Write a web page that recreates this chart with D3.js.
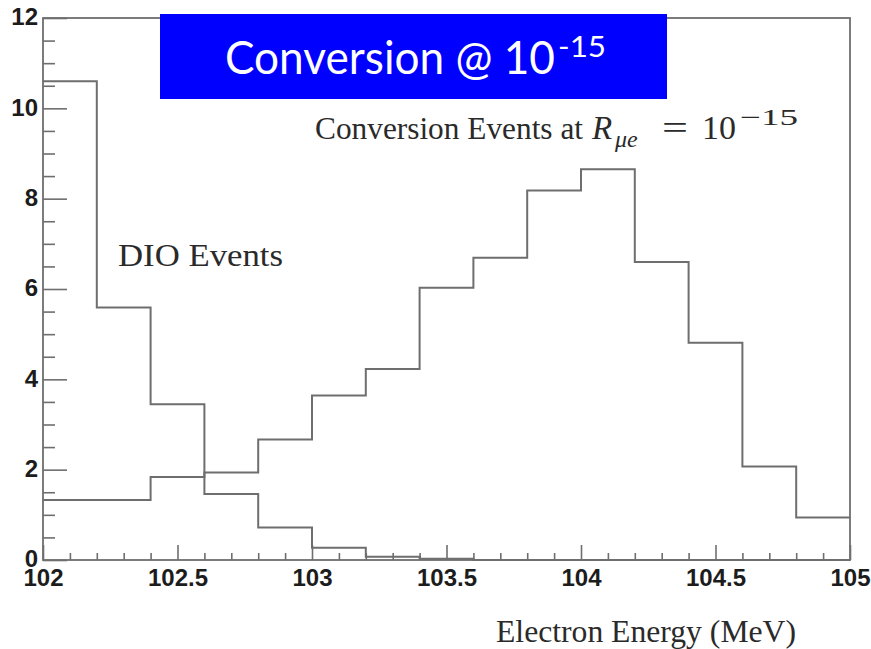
<!DOCTYPE html>
<html>
<head>
<meta charset="utf-8">
<script src="https://cdn.jsdelivr.net/npm/d3@7/dist/d3.min.js"></script>
<style>
  html, body { margin: 0; padding: 0; background: #fff; }
  svg { display: block; }
</style>
</head>
<body>
<svg id="chart" width="871" height="649"></svg>
<script>
// Bin lower edges of the electron energy histogram (MeV), width 0.2 MeV
const binLowEdges = [102.0, 102.2, 102.4, 102.6, 102.8, 103.0, 103.2, 103.4,
                     103.6, 103.8, 104.0, 104.2, 104.4, 104.6, 104.8];
const binUpperEnd = 105.0;

// Decay-in-orbit background events per bin
const dioCounts = [10.6, 5.59, 3.45, 1.46, 0.72, 0.27, 0.07, 0.03,
                   0, 0, 0, 0, 0, 0, 0];

// Conversion signal events per bin at R_mue = 1e-15
const conversionCounts = [1.33, 1.33, 1.84, 1.94, 2.67, 3.64, 4.23, 6.03,
                          6.69, 8.18, 8.65, 6.60, 4.81, 2.07, 0.94];

// Axis tick labels
const xTickValues = [102, 102.5, 103, 103.5, 104, 104.5, 105];
const xTickLabels = ["102", "102.5", "103", "103.5", "104", "104.5", "105"];
const yTickValues = [0, 2, 4, 6, 8, 10, 12];
const yTickLabels = ["0", "2", "4", "6", "8", "10", "12"];

const svg = d3.select("#chart");
const lineColor = "#6e6e6e";
const labelFont = "'Liberation Sans', Arial, sans-serif";

const x = d3.scaleLinear().domain([102, 105]).range([43, 850]);
const y = d3.scaleLinear().domain([0, 12]).range([560, 18]);

// Minor ticks: every 0.1 MeV on x, every 0.5 on y
const xMinor = d3.range(102, 105.0001, 0.1).map(v => +v.toFixed(1))
  .filter(v => !xTickValues.includes(v));
const yMinor = d3.range(0, 12.0001, 0.5).filter(v => !yTickValues.includes(v));

function styleTicks(g) {
  g.select(".domain").remove();
  g.selectAll("line").attr("stroke", lineColor).attr("stroke-width", 1.6);
}
function styleLabels(g) {
  g.selectAll("text")
    .attr("font-family", labelFont)
    .attr("font-weight", "bold").attr("font-size", 24).attr("fill", "#1c1c1c");
}

// Minor x ticks
svg.append("g")
  .attr("transform", `translate(0,${y(0)})`)
  .call(d3.axisBottom(x).tickValues(xMinor).tickSize(-7).tickFormat(""))
  .call(styleTicks);

// Major x ticks + labels
svg.append("g")
  .attr("transform", `translate(0,${y(0)})`)
  .call(d3.axisBottom(x).tickValues(xTickValues).tickSize(-15).tickPadding(9)
        .tickFormat((d, i) => xTickLabels[i]))
  .call(styleTicks)
  .call(styleLabels);

// Minor y ticks
svg.append("g")
  .attr("transform", `translate(${x(102)},0)`)
  .call(d3.axisLeft(y).tickValues(yMinor).tickSize(-12).tickFormat(""))
  .call(styleTicks);

// Major y ticks + labels
svg.append("g")
  .attr("transform", `translate(${x(102)},0)`)
  .call(d3.axisLeft(y).tickValues(yTickValues).tickSize(-24).tickPadding(5)
        .tickFormat((d, i) => yTickLabels[i]))
  .call(styleTicks)
  .call(styleLabels)
  .call(g => g.selectAll("text").attr("dy", "0.28em"));

// Frame
svg.append("rect")
  .attr("x", x(102)).attr("y", y(12))
  .attr("width", x(105) - x(102)).attr("height", y(0) - y(12))
  .attr("fill", "none").attr("stroke", lineColor).attr("stroke-width", 1.8);

// Step histograms
const stepLine = d3.line()
  .x(d => x(d[0])).y(d => y(d[1]))
  .curve(d3.curveStepAfter);

function histPoints(counts) {
  const pts = binLowEdges.map((e, i) => [e, counts[i]]);
  pts.push([binUpperEnd, counts[counts.length - 1]]);
  return pts;
}

[dioCounts, conversionCounts].forEach(counts => {
  svg.append("path")
    .datum(histPoints(counts))
    .attr("d", stepLine)
    .attr("fill", "none")
    .attr("stroke", lineColor)
    .attr("stroke-width", 2);
});

// Annotations
const serif = "'Liberation Serif', 'Times New Roman', serif";
const textColor = "#2a2a2a";

svg.append("text")
  .attr("x", 118).attr("y", 266)
  .attr("font-family", serif).attr("font-size", 32).attr("fill", textColor)
  .attr("textLength", 165).attr("lengthAdjust", "spacingAndGlyphs")
  .text("DIO Events");

// "Conversion Events at R_{μe} = 10^{-15}" laid out piece by piece
const conv = svg.append("g").attr("font-family", serif).attr("fill", textColor);
function piece(str, px, py, size, width, italic) {
  const t = conv.append("text")
    .attr("x", px).attr("y", py).attr("font-size", size)
    .attr("font-style", italic ? "italic" : "normal")
    .text(str);
  if (width) t.attr("textLength", width).attr("lengthAdjust", "spacingAndGlyphs");
}
piece("Conversion Events at", 315, 139, 31, 268, false);
piece("R", 592, 139, 33, null, true);
piece("μe", 615, 147, 24, null, true);
piece("=", 662, 139, 33, 26, false);
piece("10", 702, 139, 33, 34, false);
piece("−15", 740, 125, 23, 58, false);

// x-axis title
svg.append("text")
  .attr("x", 796).attr("y", 642)
  .attr("text-anchor", "end")
  .attr("font-family", serif).attr("font-size", 31).attr("fill", textColor)
  .attr("textLength", 300).attr("lengthAdjust", "spacingAndGlyphs")
  .text("Electron Energy (MeV)");

// Title banner
svg.append("rect")
  .attr("x", 160).attr("y", 14).attr("width", 507).attr("height", 85)
  .attr("fill", "#0000ff");
svg.append("text")
  .attr("x", 225).attr("y", 74)
  .attr("font-family", "Lato, 'Open Sans', sans-serif").attr("font-size", 47)
  .attr("fill", "#ffffff")
  .attr("textLength", 330).attr("lengthAdjust", "spacingAndGlyphs")
  .text("Conversion @ 10");
svg.append("text")
  .attr("x", 558).attr("y", 57)
  .attr("font-family", "Lato, 'Open Sans', sans-serif").attr("font-size", 29)
  .attr("fill", "#ffffff")
  .attr("textLength", 48).attr("lengthAdjust", "spacingAndGlyphs")
  .text("-15");
</script>
</body>
</html>
